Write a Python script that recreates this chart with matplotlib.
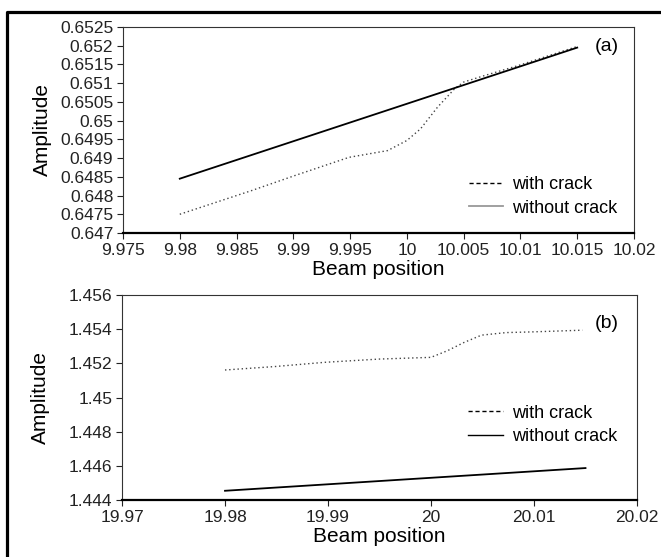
import matplotlib
matplotlib.use("Agg")
import matplotlib.pyplot as plt
from matplotlib.lines import Line2D

plt.rcParams['font.family'] = ['Liberation Sans', 'DejaVu Sans']

# panel (a)
xa_crack = [9.98, 9.9863, 9.9901, 9.9949, 9.9983, 10.0, 10.0012, 10.0027, 10.0042, 10.005, 10.0068, 10.0098, 10.015]
ya_crack = [0.6475, 0.64813, 0.64853, 0.64902, 0.6492, 0.64947, 0.64978, 0.65036, 0.65085, 0.65103, 0.6512, 0.65147, 0.65198]
xa_plain = [9.98, 9.99, 10.0, 10.01, 10.015]
ya_plain = [0.64845, 0.64945, 0.65045, 0.65145, 0.65195]
xa_ticks = [9.975, 9.98, 9.985, 9.99, 9.995, 10.0, 10.005, 10.01, 10.015, 10.02]
xa_labels = ["9.975", "9.98", "9.985", "9.99", "9.995", "10", "10.005", "10.01", "10.015", "10.02"]
ya_ticks = [0.647, 0.6475, 0.648, 0.6485, 0.649, 0.6495, 0.65, 0.6505, 0.651, 0.6515, 0.652, 0.6525]
ya_labels = ["0.647", "0.6475", "0.648", "0.6485", "0.649", "0.6495", "0.65", "0.6505", "0.651", "0.6515", "0.652", "0.6525"]

# panel (b)
xb_crack = [19.98, 19.9848, 19.9897, 19.995, 20.0, 20.0016, 20.0032, 20.0049, 20.0073, 20.0098, 20.0147]
yb_crack = [1.45161, 1.45181, 1.45206, 1.45225, 1.45235, 1.45274, 1.45322, 1.45365, 1.4538, 1.45384, 1.45394]
xb_plain = [19.98, 19.99, 20.0, 20.01, 20.015]
yb_plain = [1.44454, 1.44492, 1.4453, 1.44568, 1.44587]
xb_ticks = [19.97, 19.98, 19.99, 20.0, 20.01, 20.02]
xb_labels = ["19.97", "19.98", "19.99", "20", "20.01", "20.02"]
yb_ticks = [1.444, 1.446, 1.448, 1.45, 1.452, 1.454, 1.456]
yb_labels = ["1.444", "1.446", "1.448", "1.45", "1.452", "1.454", "1.456"]

W, H = 661, 557
fig = plt.figure(figsize=(W / 100, H / 100), dpi=100)

def box(l, t, r, b):
    return [l / W, 1 - b / H, (r - l) / W, (b - t) / H]

# outer frame (left and top edges visible)
fig.add_artist(Line2D([6.5 / W, 6.5 / W, 1.0], [0, 1 - 11.5 / H, 1 - 11.5 / H],
                      transform=fig.transFigure, color='black', lw=2.3))

ax1 = fig.add_axes(box(123, 27, 634, 233))
ax2 = fig.add_axes(box(122, 295, 637, 500))

def style(ax, xt, xl, yt, yl):
    ax.set_xticks(xt)
    ax.set_xticklabels(xl)
    ax.set_yticks(yt)
    ax.set_yticklabels(yl)
    ax.set_xlim(xt[0], xt[-1])
    ax.set_ylim(yt[0], yt[-1])
    ax.tick_params(direction='out', length=4, width=0.8, labelsize=12.5, pad=3, colors='#222222')
    for s in ['top', 'right', 'left']:
        ax.spines[s].set_linewidth(0.8)
        ax.spines[s].set_color('#333333')
    ax.spines['bottom'].set_linewidth(1.6)
    ax.spines['bottom'].set_color('black')
    ax.set_xlabel("Beam position", fontsize=15, labelpad=2)
    ax.set_ylabel("Amplitude", fontsize=15)
    ax.yaxis.set_label_coords(-0.14, 0.5)

ax1.plot(xa_crack, ya_crack, color='#444444', lw=1.0, ls=(0, (1, 2)))
ax1.plot(xa_plain, ya_plain, color='black', lw=1.3)
style(ax1, xa_ticks, xa_labels, ya_ticks, ya_labels)
ax1.text(0.947, 0.905, "(a)", transform=ax1.transAxes, fontsize=14, ha='center', va='center')
h1 = [Line2D([], [], color='black', lw=1.0, ls=(0, (3, 2))),
      Line2D([], [], color='#999999', lw=1.3)]
ax1.legend(h1, ["with crack", "without crack"], loc='center right', bbox_to_anchor=(0.967, 0.177),
           frameon=False, fontsize=13, handlelength=1.9, handletextpad=0.5, borderaxespad=0,
           labelspacing=0.35, borderpad=0)

ax2.plot(xb_crack, yb_crack, color='#444444', lw=1.0, ls=(0, (1, 2)))
ax2.plot(xb_plain, yb_plain, color='black', lw=1.3)
style(ax2, xb_ticks, xb_labels, yb_ticks, yb_labels)
ax2.text(0.942, 0.863, "(b)", transform=ax2.transAxes, fontsize=14, ha='center', va='center')
h2 = [Line2D([], [], color='black', lw=1.0, ls=(0, (3, 2))),
      Line2D([], [], color='black', lw=1.0)]
ax2.legend(h2, ["with crack", "without crack"], loc='center right', bbox_to_anchor=(0.961, 0.366),
           frameon=False, fontsize=13, handlelength=1.9, handletextpad=0.5, borderaxespad=0,
           labelspacing=0.35, borderpad=0)

fig.savefig("out.png", dpi=100)
